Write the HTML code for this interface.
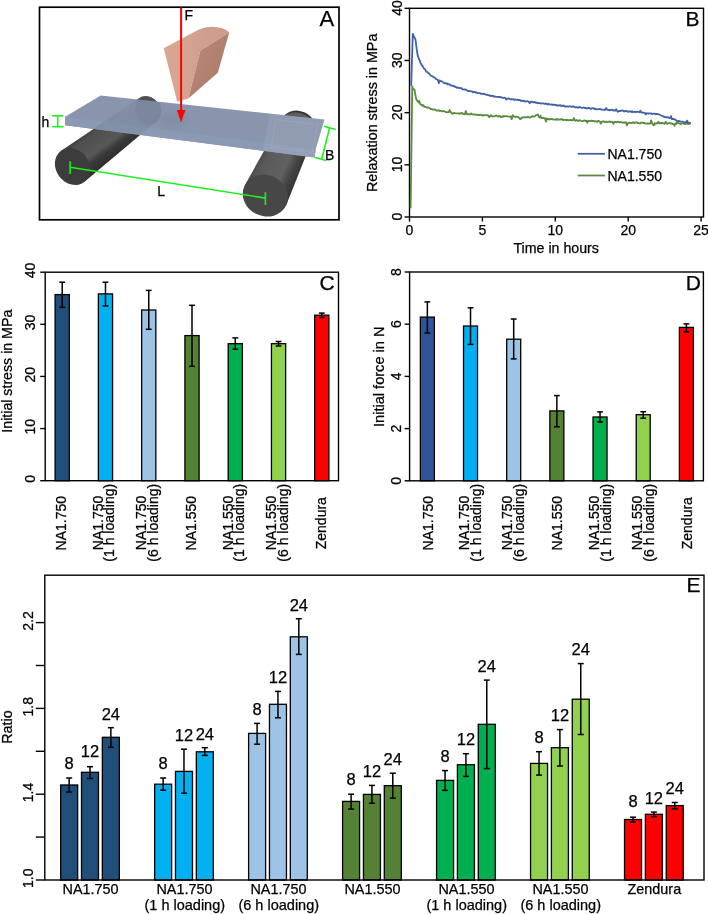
<!DOCTYPE html>
<html><head><meta charset="utf-8"><style>
html,body{margin:0;padding:0;background:#fff;}
svg{display:block;filter:blur(0.3px);}
text{font-family:"Liberation Sans", sans-serif;stroke:#000;stroke-width:0.25px;}
</style></head><body>
<svg width="708" height="914" viewBox="0 0 708 914">
<rect width="708" height="914" fill="#fff"/>
<defs>
<linearGradient id="cylL" gradientUnits="userSpaceOnUse" x1="60.9" y1="150.8" x2="84.1" y2="182.2"><stop offset="0" stop-color="#3b3b3b"/><stop offset="0.14" stop-color="#4f4f4f"/><stop offset="0.56" stop-color="#575757"/><stop offset="0.72" stop-color="#3a3a3a"/><stop offset="1" stop-color="#2b2b2b"/></linearGradient>
<linearGradient id="cylR" gradientUnits="userSpaceOnUse" x1="244.5" y1="186.0" x2="286.5" y2="205.5"><stop offset="0" stop-color="#4a4a4a"/><stop offset="0.2" stop-color="#5a5a5a"/><stop offset="0.62" stop-color="#616161"/><stop offset="0.8" stop-color="#444"/><stop offset="1" stop-color="#333"/></linearGradient>
<linearGradient id="wedgeR" x1="0" y1="0" x2="1" y2="1"><stop offset="0" stop-color="#bd8a78"/><stop offset="1" stop-color="#a67867"/></linearGradient>
<linearGradient id="wedgeL" x1="0" y1="0" x2="1" y2="0"><stop offset="0" stop-color="#d8a793"/><stop offset="1" stop-color="#cd9c89"/></linearGradient>
</defs>
<rect x="39.5" y="7.2" width="299.5" height="212.6" fill="#fff" stroke="#000" stroke-width="1.7"/>
<ellipse cx="147.5" cy="110.0" rx="14.5" ry="12.26923076923077" transform="rotate(53.00806679958521 147.5 110.0)" fill="#333"/>
<path d="M60.8,150.9 L138.8,98.4 A14.5,12.3 53.0 0 1 156.2,121.6 L84.2,182.1 Z" fill="url(#cylL)"/>
<ellipse cx="72.5" cy="166.5" rx="19.5" ry="16.5" transform="rotate(53.00806679958521 72.5 166.5)" fill="#3c3c3c"/>
<ellipse cx="298.0" cy="127.0" rx="18.0" ry="16.043478260869566" transform="rotate(25.486035174771867 298.0 127.0)" fill="#333"/>
<path d="M244.5,185.7 L281.8,119.3 A18.0,15.3 25.5 0 1 314.2,134.7 L286.1,205.5 Z" fill="url(#cylR)"/>
<ellipse cx="265.3" cy="195.6" rx="23.0" ry="20.5" transform="rotate(25.486035174771867 265.3 195.6)" fill="#474747"/>
<clipPath id="slabclip"><path d="M100.7,95.6 L324.5,119.4 L315.6,149.5 L314.7,157.5 L65.1,125.3 L65.1,116.8 Z"/></clipPath>
<path d="M100.7,95.6 L324.5,119.4 L315.6,149.5 L314.7,157.5 L65.1,125.3 L65.1,116.8 Z" fill="#8895ad"/>
<path d="M65.1,116.8 L315.6,149.5 L314.7,157.5 L65.1,125.3 Z" fill="#8b99b2"/>
<g clip-path="url(#slabclip)">
<filter id="soft" x="-50%" y="-50%" width="200%" height="200%"><feGaussianBlur stdDeviation="4"/></filter>
<g opacity="0.05">
<path d="M60.8,150.9 L138.8,98.4 L156.2,121.6 L84.2,182.1 Z" fill="#000"/>
<ellipse cx="148" cy="110.5" rx="13.5" ry="15" fill="#000"/>
</g>
<ellipse cx="148" cy="110.5" rx="13" ry="14.5" fill="#000" opacity="0.04"/>
<ellipse cx="172" cy="120" rx="14" ry="6" fill="#000" opacity="0.06" filter="url(#soft)"/>
<path d="M270,112 L330,118 L322,162 L262,156 Z" fill="#fff" opacity="0.07"/>
<path d="M276,120 L318,124.5 L312,152 L271,147 Z" fill="none" stroke="#fff" stroke-opacity="0.08" stroke-width="1.2"/>
</g>
<path d="M163.7,48.3 L196.5,30.8 Q204,27 212,26.8 Q224,27 229.2,32.6 L200.3,50.6 L188.3,98.6 L177.2,101.8 Z" fill="url(#wedgeL)"/>
<path d="M200.3,50.6 L229.2,32.6 L217.8,72.8 L188.3,98.6 Z" fill="url(#wedgeR)"/>
<line x1="181.1" y1="7.5" x2="181.1" y2="112" stroke="#ff0000" stroke-width="2"/>
<path d="M176.8,110 L185.4,110 L181.1,122.4 Z" fill="#ff0000"/>
<g stroke="#1ef01e" stroke-width="1.6" fill="none">
<line x1="57.7" y1="115.8" x2="57.7" y2="126.7"/><line x1="52.2" y1="115.8" x2="63.6" y2="115.8"/><line x1="52.2" y1="126.7" x2="63.6" y2="126.7"/>
<line x1="329.6" y1="127.9" x2="321.6" y2="159.2"/><line x1="324" y1="126.3" x2="335.6" y2="129.6"/><line x1="314.8" y1="157.6" x2="326" y2="160.6"/>
<line x1="70.1" y1="167.3" x2="265.4" y2="198.1"/><line x1="70.1" y1="161.3" x2="70.1" y2="174.0"/><line x1="265.4" y1="192.2" x2="265.4" y2="205.0"/>
</g>
<text x="326.8" y="26.3" font-size="22" text-anchor="middle">A</text>
<text x="184.4" y="19.8" font-size="14">F</text>
<text x="41.5" y="127.4" font-size="14">h</text>
<text x="325" y="159.8" font-size="14">B</text>
<text x="157.3" y="196.4" font-size="14">L</text>
<rect x="409.50" y="8.30" width="294.00" height="208.70" fill="none" stroke="#000" stroke-width="1.4"/>
<line x1="404.50" y1="217.00" x2="409.50" y2="217.00" stroke="#000" stroke-width="1.4" />
<text transform="translate(401.60,216.70) rotate(-90)" font-size="14" text-anchor="middle" fill="#000" >0</text>
<line x1="404.50" y1="164.82" x2="409.50" y2="164.82" stroke="#000" stroke-width="1.4" />
<text transform="translate(401.60,164.52) rotate(-90)" font-size="14" text-anchor="middle" fill="#000" >10</text>
<line x1="404.50" y1="112.65" x2="409.50" y2="112.65" stroke="#000" stroke-width="1.4" />
<text transform="translate(401.60,112.35) rotate(-90)" font-size="14" text-anchor="middle" fill="#000" >20</text>
<line x1="404.50" y1="60.47" x2="409.50" y2="60.47" stroke="#000" stroke-width="1.4" />
<text transform="translate(401.60,60.17) rotate(-90)" font-size="14" text-anchor="middle" fill="#000" >30</text>
<line x1="404.50" y1="8.30" x2="409.50" y2="8.30" stroke="#000" stroke-width="1.4" />
<text transform="translate(401.60,8.00) rotate(-90)" font-size="14" text-anchor="middle" fill="#000" >40</text>
<line x1="409.50" y1="217.00" x2="409.50" y2="221.50" stroke="#000" stroke-width="1.4" />
<text x="409.50" y="235.40" font-size="14" text-anchor="middle" fill="#000" >0</text>
<line x1="482.40" y1="217.00" x2="482.40" y2="221.50" stroke="#000" stroke-width="1.4" />
<text x="482.40" y="235.40" font-size="14" text-anchor="middle" fill="#000" >5</text>
<line x1="555.30" y1="217.00" x2="555.30" y2="221.50" stroke="#000" stroke-width="1.4" />
<text x="555.30" y="235.40" font-size="14" text-anchor="middle" fill="#000" >10</text>
<line x1="628.20" y1="217.00" x2="628.20" y2="221.50" stroke="#000" stroke-width="1.4" />
<text x="628.20" y="235.40" font-size="14" text-anchor="middle" fill="#000" >20</text>
<line x1="701.10" y1="217.00" x2="701.10" y2="221.50" stroke="#000" stroke-width="1.4" />
<text x="701.10" y="235.40" font-size="14" text-anchor="middle" fill="#000" >25</text>
<text x="556.20" y="253.00" font-size="14" text-anchor="middle" fill="#000"  textLength="85.5" lengthAdjust="spacingAndGlyphs">Time in hours</text>
<text transform="translate(377.00,112.85) rotate(-90)" font-size="14.3" text-anchor="middle" fill="#000"  textLength="158.5" lengthAdjust="spacingAndGlyphs">Relaxation stress in MPa</text>
<text x="692.50" y="26.10" font-size="21" text-anchor="middle" fill="#000" >B</text>
<polyline points="410.6,208.3 412.3,86.4 412.8,88.1 413.3,89.0 413.8,89.3 414.3,89.6 414.8,91.1 415.3,94.5 415.8,97.0 416.3,99.2 416.8,99.9 417.3,100.7 417.8,101.5 418.3,101.8 418.8,102.5 419.3,100.8 419.8,103.6 420.3,103.8 420.8,104.6 421.3,104.7 421.8,104.8 422.3,105.9 422.8,105.0 423.3,105.5 423.8,105.6 424.3,106.8 424.8,106.8 425.3,106.8 426.2,107.3 427.1,107.7 428.0,107.5 428.9,107.7 429.8,108.2 430.7,109.1 431.6,109.0 432.5,109.5 433.4,109.5 434.3,109.6 435.2,109.4 436.1,110.3 437.0,110.6 437.9,110.5 438.8,110.2 439.7,111.0 440.6,110.7 441.5,111.2 442.4,111.3 443.3,111.0 444.2,111.1 445.1,111.8 446.0,112.2 446.9,112.1 447.8,112.4 448.7,112.2 449.6,110.0 450.5,112.0 451.4,112.6 452.3,113.9 453.2,113.4 454.1,112.8 455.0,113.1 455.9,113.3 456.8,113.4 457.7,113.3 458.6,113.7 459.5,113.3 460.4,113.6 461.3,113.1 462.2,112.8 463.1,114.0 464.0,114.2 464.9,114.3 465.8,111.0 466.7,113.9 467.6,114.4 468.5,114.2 469.4,114.3 470.3,114.3 471.2,113.4 472.1,114.3 473.0,114.4 473.9,114.7 474.8,114.3 475.7,114.6 476.6,114.8 477.5,114.6 478.4,115.2 479.3,115.0 480.2,114.7 481.1,114.8 482.0,115.6 482.9,115.0 483.8,115.5 484.7,115.2 485.6,115.2 486.5,115.2 487.4,115.5 488.3,115.5 489.2,117.2 490.1,116.3 491.0,115.2 491.9,116.2 492.8,116.5 493.7,116.4 494.6,116.4 495.5,115.6 496.4,115.6 497.3,116.2 498.2,116.7 499.1,115.8 500.0,115.9 500.9,117.2 501.8,117.0 502.7,116.1 503.6,116.6 504.5,116.1 505.4,116.2 506.3,116.2 507.2,116.4 508.1,116.3 509.0,116.8 509.9,116.7 510.8,116.5 511.7,119.1 512.6,115.2 513.5,116.4 514.4,116.4 515.3,117.0 516.2,116.6 517.1,116.9 518.0,116.8 518.9,117.7 519.8,118.9 520.7,119.2 521.6,117.5 522.5,117.6 523.4,117.2 524.3,117.3 525.2,117.2 526.1,117.3 527.0,117.4 527.9,116.9 528.8,117.2 529.7,117.6 530.6,117.4 531.5,116.5 532.4,116.2 533.3,116.6 534.2,116.5 535.1,116.2 536.0,115.1 536.9,114.9 537.8,114.5 538.7,116.7 539.6,117.5 540.5,115.8 541.4,118.1 542.3,118.0 543.2,117.6 544.1,118.4 545.0,118.2 545.9,121.6 546.8,118.4 547.7,119.4 548.6,118.8 549.5,119.5 550.4,119.1 551.3,119.1 552.2,118.9 553.1,119.6 554.0,119.7 554.9,119.3 555.8,119.8 556.7,118.9 557.6,119.8 558.5,119.4 559.4,119.7 560.3,119.6 561.2,119.1 562.1,119.2 563.0,120.2 563.9,119.7 564.8,119.9 565.7,119.9 566.6,120.4 567.5,119.7 568.4,120.3 569.3,120.1 570.2,120.0 571.1,120.0 572.0,120.4 572.9,120.3 573.8,118.0 574.7,120.1 575.6,120.9 576.5,120.0 577.4,120.7 578.3,121.0 579.2,120.2 580.1,120.3 581.0,120.8 581.9,121.1 582.8,121.1 583.7,120.7 584.6,120.3 585.5,121.2 586.4,120.7 587.3,122.7 588.2,120.8 589.1,121.2 590.0,121.0 590.9,120.8 591.8,120.6 592.7,121.1 593.6,120.9 594.5,121.5 595.4,121.1 596.3,121.5 597.2,121.9 598.1,120.9 599.0,121.2 599.9,121.5 600.8,123.6 601.7,121.6 602.6,121.7 603.5,121.2 604.4,121.8 605.3,122.2 606.2,121.5 607.1,121.9 608.0,122.0 608.9,121.6 609.8,121.3 610.7,122.2 611.6,122.2 612.5,121.7 613.4,123.9 614.3,122.4 615.2,121.9 616.1,122.2 617.0,122.0 617.9,121.7 618.8,121.8 619.7,122.6 620.6,121.9 621.5,122.3 622.4,122.8 623.3,122.5 624.2,122.4 625.1,122.5 626.0,122.2 626.9,125.4 627.8,123.2 628.7,122.7 629.6,122.8 630.5,122.9 631.4,123.1 632.3,122.8 633.2,122.1 634.1,123.0 635.0,122.8 635.9,122.4 636.8,122.3 637.7,123.0 638.6,123.0 639.5,123.4 640.4,123.3 641.3,122.4 642.2,122.6 643.1,123.0 644.0,122.8 644.9,123.3 645.8,123.5 646.7,123.6 647.6,123.4 648.5,123.5 649.4,123.6 650.3,123.5 651.2,120.3 652.1,123.4 653.0,124.5 653.9,125.4 654.8,123.1 655.7,123.8 656.6,123.1 657.5,123.4 658.4,121.6 659.3,123.2 660.2,123.4 661.1,122.8 662.0,123.4 662.9,123.0 663.8,123.4 664.7,123.9 665.6,121.9 666.5,123.0 667.4,124.0 668.3,123.3 669.2,123.2 670.1,123.1 671.0,123.7 671.9,123.3 672.8,124.1 673.7,124.2 674.6,125.7 675.5,123.4 676.4,123.8 677.3,121.6 678.2,123.0 679.1,123.6 680.0,123.6 680.9,124.1 681.8,123.4 682.7,123.4 683.6,123.5 684.5,123.8 685.4,124.1 686.3,123.5 687.2,123.7 688.1,123.9 689.0,124.0 689.9,123.5 690.7,123.4" fill="none" stroke="#598b3d" stroke-width="1.8" stroke-linejoin="round"/>
<polyline points="411.2,86.0 412.8,33.8 413.3,34.9 413.8,36.1 414.3,37.1 414.8,38.1 415.3,39.2 415.8,41.6 416.3,46.2 416.8,49.9 417.3,53.0 417.8,55.8 418.3,57.2 418.8,58.7 419.3,59.9 419.8,60.5 420.3,62.6 420.8,63.5 421.3,64.1 421.8,65.2 422.3,65.5 422.8,66.5 423.3,67.6 423.8,68.3 424.3,68.8 424.8,68.9 425.3,69.8 426.2,71.7 427.1,71.8 428.0,72.8 428.9,73.3 429.8,74.6 430.7,75.6 431.6,75.9 432.5,76.3 433.4,77.0 434.3,77.3 435.2,78.2 436.1,79.2 437.0,79.3 437.9,80.1 438.8,83.2 439.7,80.3 440.6,81.1 441.5,81.2 442.4,81.8 443.3,82.2 444.2,83.3 445.1,83.0 446.0,83.5 446.9,83.4 447.8,84.5 448.7,84.0 449.6,84.4 450.5,85.3 451.4,85.3 452.3,85.9 453.2,86.0 454.1,86.1 455.0,87.0 455.9,86.7 456.8,87.8 457.7,87.5 458.6,87.9 459.5,88.1 460.4,87.9 461.3,88.2 462.2,89.2 463.1,89.4 464.0,89.6 464.9,89.3 465.8,89.6 466.7,90.0 467.6,91.0 468.5,91.2 469.4,91.0 470.3,91.2 471.2,91.3 472.1,91.5 473.0,92.3 473.9,92.0 474.8,91.8 475.7,92.7 476.6,92.5 477.5,93.1 478.4,93.2 479.3,93.1 480.2,93.2 481.1,93.9 482.0,93.6 482.9,94.2 483.8,93.7 484.7,94.1 485.6,94.5 486.5,94.9 487.4,94.7 488.3,95.3 489.2,95.1 490.1,95.8 491.0,96.0 491.9,95.8 492.8,95.6 493.7,96.5 494.6,96.4 495.5,96.6 496.4,96.9 497.3,96.9 498.2,97.0 499.1,97.2 500.0,96.8 500.9,97.4 501.8,97.3 502.7,97.9 503.6,97.9 504.5,97.6 505.4,98.0 506.3,99.6 507.2,98.7 508.1,98.3 509.0,98.6 509.9,99.3 510.8,99.4 511.7,99.2 512.6,99.3 513.5,99.2 514.4,100.0 515.3,99.5 516.2,99.7 517.1,100.0 518.0,99.7 518.9,100.2 519.8,100.0 520.7,100.8 521.6,100.5 522.5,101.2 523.4,100.7 524.3,101.1 525.2,101.6 526.1,101.3 527.0,101.3 527.9,101.2 528.8,101.9 529.7,103.3 530.6,101.7 531.5,101.6 532.4,102.1 533.3,102.5 534.2,101.9 535.1,102.3 536.0,102.9 536.9,102.5 537.8,103.3 538.7,103.0 539.6,103.2 540.5,103.4 541.4,103.5 542.3,103.4 543.2,103.3 544.1,103.6 545.0,104.0 545.9,103.4 546.8,103.9 547.7,104.5 548.6,103.7 549.5,104.2 550.4,104.6 551.3,104.5 552.2,104.5 553.1,105.1 554.0,104.7 554.9,104.6 555.8,105.3 556.7,105.0 557.6,105.7 558.5,105.4 559.4,105.5 560.3,105.2 561.2,106.0 562.1,105.5 563.0,106.1 563.9,105.5 564.8,106.5 565.7,106.3 566.6,106.5 567.5,106.4 568.4,106.6 569.3,106.3 570.2,106.2 571.1,106.6 572.0,106.9 572.9,106.4 573.8,106.5 574.7,107.1 575.6,107.5 576.5,107.1 577.4,107.4 578.3,107.8 579.2,107.0 580.1,107.2 581.0,107.6 581.9,107.8 582.8,107.6 583.7,107.7 584.6,108.0 585.5,107.8 586.4,108.4 587.3,108.4 588.2,107.9 589.1,107.9 590.0,108.5 590.9,108.9 591.8,108.4 592.7,108.2 593.6,108.2 594.5,109.2 595.4,108.6 596.3,109.4 597.2,109.3 598.1,109.2 599.0,108.8 599.9,109.3 600.8,109.1 601.7,109.7 602.6,109.7 603.5,109.8 604.4,109.6 605.3,109.8 606.2,108.0 607.1,109.7 608.0,110.0 608.9,109.8 609.8,110.4 610.7,109.8 611.6,109.8 612.5,109.7 613.4,110.6 614.3,110.4 615.2,110.7 616.1,109.1 617.0,110.8 617.9,111.9 618.8,111.1 619.7,110.9 620.6,111.0 621.5,110.6 622.4,110.5 623.3,110.6 624.2,111.6 625.1,111.0 626.0,111.0 626.9,111.6 627.8,111.1 628.7,111.9 629.6,111.5 630.5,111.1 631.4,112.0 632.3,111.3 633.2,112.3 634.1,111.8 635.0,111.6 635.9,112.1 636.8,111.7 637.7,111.8 638.6,111.8 639.5,112.3 640.4,110.7 641.3,112.5 642.2,112.6 643.1,112.5 644.0,112.9 644.9,113.0 645.8,114.5 646.7,113.2 647.6,113.4 648.5,113.8 649.4,113.4 650.3,113.3 651.2,113.5 652.1,114.1 653.0,113.7 653.9,113.6 654.8,113.7 655.7,114.3 656.6,113.9 657.5,114.0 658.4,114.3 659.3,114.4 660.2,115.0 661.1,115.5 662.0,115.9 662.9,116.1 663.8,116.6 664.7,117.0 665.6,117.1 666.5,117.5 667.4,117.1 668.3,117.4 669.2,118.2 670.1,117.9 671.0,116.1 671.9,119.2 672.8,118.9 673.7,119.0 674.6,119.4 675.5,119.9 676.4,120.5 677.3,121.1 678.2,121.1 679.1,120.9 680.0,121.5 680.9,121.6 681.8,121.7 682.7,121.7 683.6,122.4 684.5,122.3 685.4,122.0 686.3,122.9 687.2,120.6 688.1,123.2 689.0,122.7 689.9,122.8 690.7,123.1" fill="none" stroke="#4262a6" stroke-width="1.8" stroke-linejoin="round"/>
<line x1="577.80" y1="153.80" x2="604.90" y2="153.80" stroke="#4262a6" stroke-width="1.8" />
<line x1="577.80" y1="175.50" x2="604.90" y2="175.50" stroke="#598b3d" stroke-width="1.8" />
<text x="607.50" y="158.70" font-size="14" text-anchor="start" fill="#000" >NA1.750</text>
<text x="607.50" y="180.80" font-size="14" text-anchor="start" fill="#000" >NA1.550</text>
<rect x="55.10" y="294.60" width="14.20" height="186.10" fill="#1f4e79" stroke="#000" stroke-width="1.3"/>
<line x1="62.20" y1="282.20" x2="62.20" y2="307.30" stroke="#000" stroke-width="1.5" />
<line x1="59.30" y1="282.20" x2="65.10" y2="282.20" stroke="#000" stroke-width="1.5" />
<line x1="59.30" y1="307.30" x2="65.10" y2="307.30" stroke="#000" stroke-width="1.5" />
<rect x="98.37" y="293.90" width="14.20" height="186.80" fill="#00b0f0" stroke="#000" stroke-width="1.3"/>
<line x1="105.47" y1="282.20" x2="105.47" y2="305.90" stroke="#000" stroke-width="1.5" />
<line x1="102.57" y1="282.20" x2="108.37" y2="282.20" stroke="#000" stroke-width="1.5" />
<line x1="102.57" y1="305.90" x2="108.37" y2="305.90" stroke="#000" stroke-width="1.5" />
<rect x="141.64" y="310.00" width="14.20" height="170.70" fill="#9dc3e6" stroke="#000" stroke-width="1.3"/>
<line x1="148.74" y1="290.40" x2="148.74" y2="329.30" stroke="#000" stroke-width="1.5" />
<line x1="145.84" y1="290.40" x2="151.64" y2="290.40" stroke="#000" stroke-width="1.5" />
<line x1="145.84" y1="329.30" x2="151.64" y2="329.30" stroke="#000" stroke-width="1.5" />
<rect x="184.91" y="335.60" width="14.20" height="145.10" fill="#548235" stroke="#000" stroke-width="1.3"/>
<line x1="192.01" y1="305.30" x2="192.01" y2="366.30" stroke="#000" stroke-width="1.5" />
<line x1="189.11" y1="305.30" x2="194.91" y2="305.30" stroke="#000" stroke-width="1.5" />
<line x1="189.11" y1="366.30" x2="194.91" y2="366.30" stroke="#000" stroke-width="1.5" />
<rect x="228.18" y="343.70" width="14.20" height="137.00" fill="#00b050" stroke="#000" stroke-width="1.3"/>
<line x1="235.28" y1="337.90" x2="235.28" y2="349.20" stroke="#000" stroke-width="1.5" />
<line x1="232.38" y1="337.90" x2="238.18" y2="337.90" stroke="#000" stroke-width="1.5" />
<line x1="232.38" y1="349.20" x2="238.18" y2="349.20" stroke="#000" stroke-width="1.5" />
<rect x="271.45" y="343.70" width="14.20" height="137.00" fill="#92d050" stroke="#000" stroke-width="1.3"/>
<line x1="278.55" y1="341.50" x2="278.55" y2="346.00" stroke="#000" stroke-width="1.5" />
<line x1="275.65" y1="341.50" x2="281.45" y2="341.50" stroke="#000" stroke-width="1.5" />
<line x1="275.65" y1="346.00" x2="281.45" y2="346.00" stroke="#000" stroke-width="1.5" />
<rect x="314.72" y="315.20" width="14.20" height="165.50" fill="#ff0000" stroke="#000" stroke-width="1.3"/>
<line x1="321.82" y1="313.10" x2="321.82" y2="317.50" stroke="#000" stroke-width="1.5" />
<line x1="318.92" y1="313.10" x2="324.72" y2="313.10" stroke="#000" stroke-width="1.5" />
<line x1="318.92" y1="317.50" x2="324.72" y2="317.50" stroke="#000" stroke-width="1.5" />
<rect x="45.20" y="272.20" width="293.30" height="208.50" fill="none" stroke="#000" stroke-width="1.4"/>
<line x1="40.20" y1="480.70" x2="45.20" y2="480.70" stroke="#000" stroke-width="1.4" />
<text transform="translate(34.80,478.90) rotate(-90)" font-size="14" text-anchor="middle" fill="#000" >0</text>
<line x1="40.20" y1="428.57" x2="45.20" y2="428.57" stroke="#000" stroke-width="1.4" />
<text transform="translate(34.80,426.77) rotate(-90)" font-size="14" text-anchor="middle" fill="#000" >10</text>
<line x1="40.20" y1="376.45" x2="45.20" y2="376.45" stroke="#000" stroke-width="1.4" />
<text transform="translate(34.80,374.65) rotate(-90)" font-size="14" text-anchor="middle" fill="#000" >20</text>
<line x1="40.20" y1="324.32" x2="45.20" y2="324.32" stroke="#000" stroke-width="1.4" />
<text transform="translate(34.80,322.52) rotate(-90)" font-size="14" text-anchor="middle" fill="#000" >30</text>
<line x1="40.20" y1="272.20" x2="45.20" y2="272.20" stroke="#000" stroke-width="1.4" />
<text transform="translate(34.80,270.40) rotate(-90)" font-size="14" text-anchor="middle" fill="#000" >40</text>
<text transform="translate(66.40,523.20) rotate(-90)" font-size="14" text-anchor="middle" fill="#000" >NA1.750</text>
<text transform="translate(102.77,523.00) rotate(-90)" font-size="14" text-anchor="middle" fill="#000" >NA1.750</text>
<text transform="translate(114.47,522.80) rotate(-90)" font-size="14" text-anchor="middle" fill="#000" >(1 h loading)</text>
<text transform="translate(146.04,523.00) rotate(-90)" font-size="14" text-anchor="middle" fill="#000" >NA1.750</text>
<text transform="translate(157.74,522.80) rotate(-90)" font-size="14" text-anchor="middle" fill="#000" >(6 h loading)</text>
<text transform="translate(196.21,523.20) rotate(-90)" font-size="14" text-anchor="middle" fill="#000" >NA1.550</text>
<text transform="translate(232.58,523.00) rotate(-90)" font-size="14" text-anchor="middle" fill="#000" >NA1.550</text>
<text transform="translate(244.28,522.80) rotate(-90)" font-size="14" text-anchor="middle" fill="#000" >(1 h loading)</text>
<text transform="translate(275.85,523.00) rotate(-90)" font-size="14" text-anchor="middle" fill="#000" >NA1.550</text>
<text transform="translate(287.55,522.80) rotate(-90)" font-size="14" text-anchor="middle" fill="#000" >(6 h loading)</text>
<text transform="translate(326.02,523.20) rotate(-90)" font-size="14" text-anchor="middle" fill="#000" >Zendura</text>
<text transform="translate(11.50,371.20) rotate(-90)" font-size="14.3" text-anchor="middle" fill="#000"  textLength="123" lengthAdjust="spacingAndGlyphs">Initial stress in MPa</text>
<text x="327.10" y="290.30" font-size="21" text-anchor="middle" fill="#000" >C</text>
<rect x="420.35" y="317.10" width="14.00" height="163.70" fill="#2f5597" stroke="#000" stroke-width="1.3"/>
<line x1="427.35" y1="301.90" x2="427.35" y2="333.00" stroke="#000" stroke-width="1.5" />
<line x1="424.45" y1="301.90" x2="430.25" y2="301.90" stroke="#000" stroke-width="1.5" />
<line x1="424.45" y1="333.00" x2="430.25" y2="333.00" stroke="#000" stroke-width="1.5" />
<rect x="463.52" y="326.00" width="14.00" height="154.80" fill="#00b0f0" stroke="#000" stroke-width="1.3"/>
<line x1="470.52" y1="307.80" x2="470.52" y2="344.40" stroke="#000" stroke-width="1.5" />
<line x1="467.62" y1="307.80" x2="473.42" y2="307.80" stroke="#000" stroke-width="1.5" />
<line x1="467.62" y1="344.40" x2="473.42" y2="344.40" stroke="#000" stroke-width="1.5" />
<rect x="506.69" y="339.20" width="14.00" height="141.60" fill="#9dc3e6" stroke="#000" stroke-width="1.3"/>
<line x1="513.69" y1="319.00" x2="513.69" y2="358.90" stroke="#000" stroke-width="1.5" />
<line x1="510.79" y1="319.00" x2="516.59" y2="319.00" stroke="#000" stroke-width="1.5" />
<line x1="510.79" y1="358.90" x2="516.59" y2="358.90" stroke="#000" stroke-width="1.5" />
<rect x="549.86" y="410.90" width="14.00" height="69.90" fill="#548235" stroke="#000" stroke-width="1.3"/>
<line x1="556.86" y1="395.60" x2="556.86" y2="426.80" stroke="#000" stroke-width="1.5" />
<line x1="553.96" y1="395.60" x2="559.76" y2="395.60" stroke="#000" stroke-width="1.5" />
<line x1="553.96" y1="426.80" x2="559.76" y2="426.80" stroke="#000" stroke-width="1.5" />
<rect x="593.03" y="417.00" width="14.00" height="63.80" fill="#00b050" stroke="#000" stroke-width="1.3"/>
<line x1="600.03" y1="411.90" x2="600.03" y2="422.00" stroke="#000" stroke-width="1.5" />
<line x1="597.13" y1="411.90" x2="602.93" y2="411.90" stroke="#000" stroke-width="1.5" />
<line x1="597.13" y1="422.00" x2="602.93" y2="422.00" stroke="#000" stroke-width="1.5" />
<rect x="636.20" y="414.70" width="14.00" height="66.10" fill="#92d050" stroke="#000" stroke-width="1.3"/>
<line x1="643.20" y1="411.70" x2="643.20" y2="418.20" stroke="#000" stroke-width="1.5" />
<line x1="640.30" y1="411.70" x2="646.10" y2="411.70" stroke="#000" stroke-width="1.5" />
<line x1="640.30" y1="418.20" x2="646.10" y2="418.20" stroke="#000" stroke-width="1.5" />
<rect x="679.37" y="327.40" width="14.00" height="153.40" fill="#ff0000" stroke="#000" stroke-width="1.3"/>
<line x1="686.37" y1="323.90" x2="686.37" y2="331.80" stroke="#000" stroke-width="1.5" />
<line x1="683.47" y1="323.90" x2="689.27" y2="323.90" stroke="#000" stroke-width="1.5" />
<line x1="683.47" y1="331.80" x2="689.27" y2="331.80" stroke="#000" stroke-width="1.5" />
<rect x="409.60" y="272.00" width="293.80" height="208.80" fill="none" stroke="#000" stroke-width="1.4"/>
<line x1="404.60" y1="480.80" x2="409.60" y2="480.80" stroke="#000" stroke-width="1.4" />
<text transform="translate(400.70,480.80) rotate(-90)" font-size="14" text-anchor="middle" fill="#000" >0</text>
<line x1="404.60" y1="428.60" x2="409.60" y2="428.60" stroke="#000" stroke-width="1.4" />
<text transform="translate(400.70,428.60) rotate(-90)" font-size="14" text-anchor="middle" fill="#000" >2</text>
<line x1="404.60" y1="376.40" x2="409.60" y2="376.40" stroke="#000" stroke-width="1.4" />
<text transform="translate(400.70,376.40) rotate(-90)" font-size="14" text-anchor="middle" fill="#000" >4</text>
<line x1="404.60" y1="324.20" x2="409.60" y2="324.20" stroke="#000" stroke-width="1.4" />
<text transform="translate(400.70,324.20) rotate(-90)" font-size="14" text-anchor="middle" fill="#000" >6</text>
<line x1="404.60" y1="272.00" x2="409.60" y2="272.00" stroke="#000" stroke-width="1.4" />
<text transform="translate(400.70,272.00) rotate(-90)" font-size="14" text-anchor="middle" fill="#000" >8</text>
<text transform="translate(432.85,523.20) rotate(-90)" font-size="14" text-anchor="middle" fill="#000" >NA1.750</text>
<text transform="translate(469.12,523.00) rotate(-90)" font-size="14" text-anchor="middle" fill="#000" >NA1.750</text>
<text transform="translate(481.02,522.80) rotate(-90)" font-size="14" text-anchor="middle" fill="#000" >(1 h loading)</text>
<text transform="translate(512.29,523.00) rotate(-90)" font-size="14" text-anchor="middle" fill="#000" >NA1.750</text>
<text transform="translate(524.19,522.80) rotate(-90)" font-size="14" text-anchor="middle" fill="#000" >(6 h loading)</text>
<text transform="translate(562.36,523.20) rotate(-90)" font-size="14" text-anchor="middle" fill="#000" >NA1.550</text>
<text transform="translate(598.63,523.00) rotate(-90)" font-size="14" text-anchor="middle" fill="#000" >NA1.550</text>
<text transform="translate(610.52,522.80) rotate(-90)" font-size="14" text-anchor="middle" fill="#000" >(1 h loading)</text>
<text transform="translate(641.80,523.00) rotate(-90)" font-size="14" text-anchor="middle" fill="#000" >NA1.550</text>
<text transform="translate(653.70,522.80) rotate(-90)" font-size="14" text-anchor="middle" fill="#000" >(6 h loading)</text>
<text transform="translate(691.87,523.20) rotate(-90)" font-size="14" text-anchor="middle" fill="#000" >Zendura</text>
<text transform="translate(384.20,376.75) rotate(-90)" font-size="14.3" text-anchor="middle" fill="#000"  textLength="100.5" lengthAdjust="spacingAndGlyphs">Initial force in N</text>
<text x="693.30" y="289.70" font-size="21" text-anchor="middle" fill="#000" >D</text>
<rect x="60.65" y="785.00" width="17.00" height="95.00" fill="#1f4e79" stroke="#000" stroke-width="1.3"/>
<line x1="69.15" y1="778.00" x2="69.15" y2="792.10" stroke="#000" stroke-width="1.5" />
<line x1="66.15" y1="778.00" x2="72.15" y2="778.00" stroke="#000" stroke-width="1.5" />
<line x1="66.15" y1="792.10" x2="72.15" y2="792.10" stroke="#000" stroke-width="1.5" />
<text x="69.15" y="769.20" font-size="16.5" text-anchor="middle" fill="#000" >8</text>
<rect x="81.50" y="772.30" width="17.00" height="107.70" fill="#1f4e79" stroke="#000" stroke-width="1.3"/>
<line x1="90.00" y1="766.70" x2="90.00" y2="778.50" stroke="#000" stroke-width="1.5" />
<line x1="87.00" y1="766.70" x2="93.00" y2="766.70" stroke="#000" stroke-width="1.5" />
<line x1="87.00" y1="778.50" x2="93.00" y2="778.50" stroke="#000" stroke-width="1.5" />
<text x="90.00" y="756.50" font-size="16.5" text-anchor="middle" fill="#000" >12</text>
<rect x="102.35" y="737.30" width="17.00" height="142.70" fill="#1f4e79" stroke="#000" stroke-width="1.3"/>
<line x1="110.85" y1="727.70" x2="110.85" y2="747.20" stroke="#000" stroke-width="1.5" />
<line x1="107.85" y1="727.70" x2="113.85" y2="727.70" stroke="#000" stroke-width="1.5" />
<line x1="107.85" y1="747.20" x2="113.85" y2="747.20" stroke="#000" stroke-width="1.5" />
<text x="110.85" y="720.10" font-size="16.5" text-anchor="middle" fill="#000" >24</text>
<text x="90.50" y="893.60" font-size="14.4" text-anchor="middle" fill="#000" >NA1.750</text>
<rect x="154.63" y="784.20" width="17.00" height="95.80" fill="#00b0f0" stroke="#000" stroke-width="1.3"/>
<line x1="163.13" y1="778.00" x2="163.13" y2="790.20" stroke="#000" stroke-width="1.5" />
<line x1="160.13" y1="778.00" x2="166.13" y2="778.00" stroke="#000" stroke-width="1.5" />
<line x1="160.13" y1="790.20" x2="166.13" y2="790.20" stroke="#000" stroke-width="1.5" />
<text x="163.13" y="769.20" font-size="16.5" text-anchor="middle" fill="#000" >8</text>
<rect x="175.48" y="771.40" width="17.00" height="108.60" fill="#00b0f0" stroke="#000" stroke-width="1.3"/>
<line x1="183.98" y1="749.20" x2="183.98" y2="793.20" stroke="#000" stroke-width="1.5" />
<line x1="180.98" y1="749.20" x2="186.98" y2="749.20" stroke="#000" stroke-width="1.5" />
<line x1="180.98" y1="793.20" x2="186.98" y2="793.20" stroke="#000" stroke-width="1.5" />
<text x="183.98" y="740.50" font-size="16.5" text-anchor="middle" fill="#000" >12</text>
<rect x="196.33" y="751.80" width="17.00" height="128.20" fill="#00b0f0" stroke="#000" stroke-width="1.3"/>
<line x1="204.83" y1="747.70" x2="204.83" y2="755.40" stroke="#000" stroke-width="1.5" />
<line x1="201.83" y1="747.70" x2="207.83" y2="747.70" stroke="#000" stroke-width="1.5" />
<line x1="201.83" y1="755.40" x2="207.83" y2="755.40" stroke="#000" stroke-width="1.5" />
<text x="204.83" y="739.50" font-size="16.5" text-anchor="middle" fill="#000" >24</text>
<text x="184.48" y="893.60" font-size="14.4" text-anchor="middle" fill="#000" >NA1.750</text>
<text x="184.78" y="909.60" font-size="14.5" text-anchor="middle" fill="#000" >(1 h loading)</text>
<rect x="248.61" y="733.40" width="17.00" height="146.60" fill="#9dc3e6" stroke="#000" stroke-width="1.3"/>
<line x1="257.11" y1="723.40" x2="257.11" y2="744.20" stroke="#000" stroke-width="1.5" />
<line x1="254.11" y1="723.40" x2="260.11" y2="723.40" stroke="#000" stroke-width="1.5" />
<line x1="254.11" y1="744.20" x2="260.11" y2="744.20" stroke="#000" stroke-width="1.5" />
<text x="257.11" y="714.70" font-size="16.5" text-anchor="middle" fill="#000" >8</text>
<rect x="269.46" y="704.30" width="17.00" height="175.70" fill="#9dc3e6" stroke="#000" stroke-width="1.3"/>
<line x1="277.96" y1="691.40" x2="277.96" y2="717.80" stroke="#000" stroke-width="1.5" />
<line x1="274.96" y1="691.40" x2="280.96" y2="691.40" stroke="#000" stroke-width="1.5" />
<line x1="274.96" y1="717.80" x2="280.96" y2="717.80" stroke="#000" stroke-width="1.5" />
<text x="277.96" y="683.10" font-size="16.5" text-anchor="middle" fill="#000" >12</text>
<rect x="290.31" y="636.80" width="17.00" height="243.20" fill="#9dc3e6" stroke="#000" stroke-width="1.3"/>
<line x1="298.81" y1="618.70" x2="298.81" y2="654.40" stroke="#000" stroke-width="1.5" />
<line x1="295.81" y1="618.70" x2="301.81" y2="618.70" stroke="#000" stroke-width="1.5" />
<line x1="295.81" y1="654.40" x2="301.81" y2="654.40" stroke="#000" stroke-width="1.5" />
<text x="298.81" y="610.80" font-size="16.5" text-anchor="middle" fill="#000" >24</text>
<text x="278.46" y="893.60" font-size="14.4" text-anchor="middle" fill="#000" >NA1.750</text>
<text x="278.76" y="909.60" font-size="14.5" text-anchor="middle" fill="#000" >(6 h loading)</text>
<rect x="342.59" y="801.40" width="17.00" height="78.60" fill="#548235" stroke="#000" stroke-width="1.3"/>
<line x1="351.09" y1="794.20" x2="351.09" y2="809.10" stroke="#000" stroke-width="1.5" />
<line x1="348.09" y1="794.20" x2="354.09" y2="794.20" stroke="#000" stroke-width="1.5" />
<line x1="348.09" y1="809.10" x2="354.09" y2="809.10" stroke="#000" stroke-width="1.5" />
<text x="351.09" y="785.40" font-size="16.5" text-anchor="middle" fill="#000" >8</text>
<rect x="363.44" y="794.40" width="17.00" height="85.60" fill="#548235" stroke="#000" stroke-width="1.3"/>
<line x1="371.94" y1="785.40" x2="371.94" y2="803.20" stroke="#000" stroke-width="1.5" />
<line x1="368.94" y1="785.40" x2="374.94" y2="785.40" stroke="#000" stroke-width="1.5" />
<line x1="368.94" y1="803.20" x2="374.94" y2="803.20" stroke="#000" stroke-width="1.5" />
<text x="371.94" y="776.60" font-size="16.5" text-anchor="middle" fill="#000" >12</text>
<rect x="384.29" y="785.70" width="17.00" height="94.30" fill="#548235" stroke="#000" stroke-width="1.3"/>
<line x1="392.79" y1="773.20" x2="392.79" y2="798.10" stroke="#000" stroke-width="1.5" />
<line x1="389.79" y1="773.20" x2="395.79" y2="773.20" stroke="#000" stroke-width="1.5" />
<line x1="389.79" y1="798.10" x2="395.79" y2="798.10" stroke="#000" stroke-width="1.5" />
<text x="392.79" y="765.30" font-size="16.5" text-anchor="middle" fill="#000" >24</text>
<text x="372.44" y="893.60" font-size="14.4" text-anchor="middle" fill="#000" >NA1.550</text>
<rect x="436.57" y="780.40" width="17.00" height="99.60" fill="#00b050" stroke="#000" stroke-width="1.3"/>
<line x1="445.07" y1="770.60" x2="445.07" y2="790.40" stroke="#000" stroke-width="1.5" />
<line x1="442.07" y1="770.60" x2="448.07" y2="770.60" stroke="#000" stroke-width="1.5" />
<line x1="442.07" y1="790.40" x2="448.07" y2="790.40" stroke="#000" stroke-width="1.5" />
<text x="445.07" y="761.90" font-size="16.5" text-anchor="middle" fill="#000" >8</text>
<rect x="457.42" y="764.70" width="17.00" height="115.30" fill="#00b050" stroke="#000" stroke-width="1.3"/>
<line x1="465.92" y1="753.70" x2="465.92" y2="776.40" stroke="#000" stroke-width="1.5" />
<line x1="462.92" y1="753.70" x2="468.92" y2="753.70" stroke="#000" stroke-width="1.5" />
<line x1="462.92" y1="776.40" x2="468.92" y2="776.40" stroke="#000" stroke-width="1.5" />
<text x="465.92" y="744.90" font-size="16.5" text-anchor="middle" fill="#000" >12</text>
<rect x="478.27" y="724.30" width="17.00" height="155.70" fill="#00b050" stroke="#000" stroke-width="1.3"/>
<line x1="486.77" y1="680.10" x2="486.77" y2="768.60" stroke="#000" stroke-width="1.5" />
<line x1="483.77" y1="680.10" x2="489.77" y2="680.10" stroke="#000" stroke-width="1.5" />
<line x1="483.77" y1="768.60" x2="489.77" y2="768.60" stroke="#000" stroke-width="1.5" />
<text x="486.77" y="672.30" font-size="16.5" text-anchor="middle" fill="#000" >24</text>
<text x="466.42" y="893.60" font-size="14.4" text-anchor="middle" fill="#000" >NA1.550</text>
<text x="466.72" y="909.60" font-size="14.5" text-anchor="middle" fill="#000" >(1 h loading)</text>
<rect x="530.55" y="763.40" width="17.00" height="116.60" fill="#92d050" stroke="#000" stroke-width="1.3"/>
<line x1="539.05" y1="751.70" x2="539.05" y2="775.10" stroke="#000" stroke-width="1.5" />
<line x1="536.05" y1="751.70" x2="542.05" y2="751.70" stroke="#000" stroke-width="1.5" />
<line x1="536.05" y1="775.10" x2="542.05" y2="775.10" stroke="#000" stroke-width="1.5" />
<text x="539.05" y="743.30" font-size="16.5" text-anchor="middle" fill="#000" >8</text>
<rect x="551.40" y="747.70" width="17.00" height="132.30" fill="#92d050" stroke="#000" stroke-width="1.3"/>
<line x1="559.90" y1="729.60" x2="559.90" y2="766.00" stroke="#000" stroke-width="1.5" />
<line x1="556.90" y1="729.60" x2="562.90" y2="729.60" stroke="#000" stroke-width="1.5" />
<line x1="556.90" y1="766.00" x2="562.90" y2="766.00" stroke="#000" stroke-width="1.5" />
<text x="559.90" y="720.50" font-size="16.5" text-anchor="middle" fill="#000" >12</text>
<rect x="572.25" y="699.20" width="17.00" height="180.80" fill="#92d050" stroke="#000" stroke-width="1.3"/>
<line x1="580.75" y1="663.60" x2="580.75" y2="734.50" stroke="#000" stroke-width="1.5" />
<line x1="577.75" y1="663.60" x2="583.75" y2="663.60" stroke="#000" stroke-width="1.5" />
<line x1="577.75" y1="734.50" x2="583.75" y2="734.50" stroke="#000" stroke-width="1.5" />
<text x="580.75" y="654.90" font-size="16.5" text-anchor="middle" fill="#000" >24</text>
<text x="560.40" y="893.60" font-size="14.4" text-anchor="middle" fill="#000" >NA1.550</text>
<text x="560.70" y="909.60" font-size="14.5" text-anchor="middle" fill="#000" >(6 h loading)</text>
<rect x="624.53" y="819.50" width="17.00" height="60.50" fill="#ff0000" stroke="#000" stroke-width="1.3"/>
<line x1="633.03" y1="817.20" x2="633.03" y2="822.00" stroke="#000" stroke-width="1.5" />
<line x1="630.03" y1="817.20" x2="636.03" y2="817.20" stroke="#000" stroke-width="1.5" />
<line x1="630.03" y1="822.00" x2="636.03" y2="822.00" stroke="#000" stroke-width="1.5" />
<text x="633.03" y="807.30" font-size="16.5" text-anchor="middle" fill="#000" >8</text>
<rect x="645.38" y="814.30" width="17.00" height="65.70" fill="#ff0000" stroke="#000" stroke-width="1.3"/>
<line x1="653.88" y1="812.10" x2="653.88" y2="816.60" stroke="#000" stroke-width="1.5" />
<line x1="650.88" y1="812.10" x2="656.88" y2="812.10" stroke="#000" stroke-width="1.5" />
<line x1="650.88" y1="816.60" x2="656.88" y2="816.60" stroke="#000" stroke-width="1.5" />
<text x="653.88" y="803.70" font-size="16.5" text-anchor="middle" fill="#000" >12</text>
<rect x="666.23" y="805.60" width="17.00" height="74.40" fill="#ff0000" stroke="#000" stroke-width="1.3"/>
<line x1="674.73" y1="802.50" x2="674.73" y2="808.80" stroke="#000" stroke-width="1.5" />
<line x1="671.73" y1="802.50" x2="677.73" y2="802.50" stroke="#000" stroke-width="1.5" />
<line x1="671.73" y1="808.80" x2="677.73" y2="808.80" stroke="#000" stroke-width="1.5" />
<text x="674.73" y="794.10" font-size="16.5" text-anchor="middle" fill="#000" >24</text>
<text x="654.38" y="893.60" font-size="14.4" text-anchor="middle" fill="#000" >Zendura</text>
<rect x="44.80" y="575.20" width="659.20" height="304.80" fill="none" stroke="#000" stroke-width="1.4"/>
<line x1="35.80" y1="880.00" x2="44.80" y2="880.00" stroke="#000" stroke-width="1.4" />
<text transform="translate(33.30,878.30) rotate(-90)" font-size="14" text-anchor="middle" fill="#000" >1.0</text>
<line x1="35.80" y1="837.10" x2="44.80" y2="837.10" stroke="#000" stroke-width="1.4" />
<line x1="35.80" y1="794.20" x2="44.80" y2="794.20" stroke="#000" stroke-width="1.4" />
<text transform="translate(33.30,792.50) rotate(-90)" font-size="14" text-anchor="middle" fill="#000" >1.4</text>
<line x1="35.80" y1="751.30" x2="44.80" y2="751.30" stroke="#000" stroke-width="1.4" />
<line x1="35.80" y1="708.40" x2="44.80" y2="708.40" stroke="#000" stroke-width="1.4" />
<text transform="translate(33.30,706.70) rotate(-90)" font-size="14" text-anchor="middle" fill="#000" >1.8</text>
<line x1="35.80" y1="665.50" x2="44.80" y2="665.50" stroke="#000" stroke-width="1.4" />
<line x1="35.80" y1="622.60" x2="44.80" y2="622.60" stroke="#000" stroke-width="1.4" />
<text transform="translate(33.30,620.90) rotate(-90)" font-size="14" text-anchor="middle" fill="#000" >2.2</text>
<text transform="translate(11.50,727.00) rotate(-90)" font-size="14.3" text-anchor="middle" fill="#000"  textLength="33.5" lengthAdjust="spacingAndGlyphs">Ratio</text>
<text x="693.40" y="592.40" font-size="21" text-anchor="middle" fill="#000" >E</text>
</svg>
</body></html>
